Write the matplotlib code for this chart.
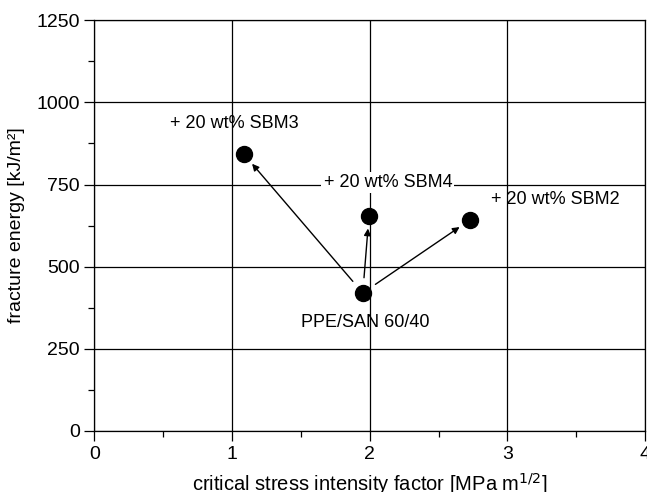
import matplotlib.pyplot as plt

plt.rcParams['font.family'] = ['Liberation Sans', 'DejaVu Sans']

# data
names = ['PPE/SAN 60/40', '+ 20 wt% SBM3', '+ 20 wt% SBM4', '+ 20 wt% SBM2']
k_ic = [1.95, 1.087, 1.995, 2.728]          # MPa m^1/2
energy = [420, 842, 654, 642]                # kJ/m^2
label_x = [1.966, 1.015, 2.133, 3.346]
label_y = [331, 937, 757, 703]

fig = plt.figure(figsize=(6.47, 4.92), dpi=100)
ax = fig.add_axes([0.1457, 0.124, 0.8513, 0.835])

ax.set_xlim(0, 4)
ax.set_ylim(0, 1250)
ax.set_xticks([0, 1, 2, 3, 4])
ax.set_yticks([0, 250, 500, 750, 1000, 1250])
ax.set_xticks([0.5, 1.5, 2.5, 3.5], minor=True)
ax.set_yticks([125, 375, 625, 875, 1125], minor=True)
ax.tick_params(which='major', direction='out', length=7, width=0.9, labelsize=14)
ax.tick_params(which='minor', direction='out', length=4, width=0.9)
ax.grid(True, which='major', color='black', linewidth=0.9)
ax.set_axisbelow(True)
for s in ax.spines.values():
    s.set_linewidth(0.9)

ax.plot(k_ic, energy, 'o', color='black', markersize=11.5, zorder=3)

# arrows from the blend to each modified blend
for i in range(1, len(k_ic)):
    ax.annotate('', xy=(k_ic[i], energy[i]), xytext=(k_ic[0], energy[0]),
                arrowprops=dict(arrowstyle='-|>', color='black', lw=1.0,
                                shrinkA=11, shrinkB=9, mutation_scale=10),
                zorder=2)

for i, name in enumerate(names):
    bbox = None
    if i == 2:
        bbox = dict(facecolor='white', edgecolor='none', pad=1.5)
    ax.text(label_x[i], label_y[i], name, fontsize=13, ha='center', va='center',
            bbox=bbox, zorder=4)

ax.set_xlabel('critical stress intensity factor [MPa m$^{1/2}$]', fontsize=14.5, labelpad=6)
ax.set_ylabel('fracture energy [kJ/m²]', fontsize=14, labelpad=8)

fig.savefig('out.png', dpi=100)
